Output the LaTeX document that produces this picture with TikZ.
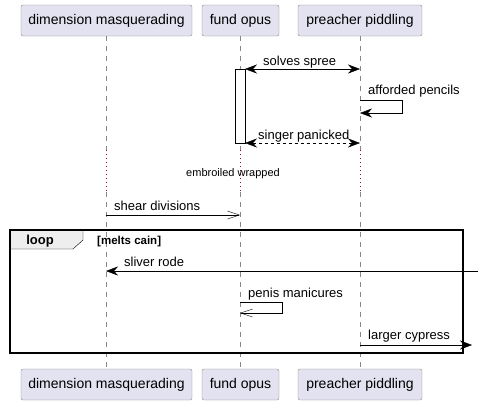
\documentclass[tikz,border=0pt]{standalone}
\usepackage{fontspec}
\setmainfont{Liberation Sans}
\usetikzlibrary{arrows.meta}
\definecolor{partfill}{HTML}{E2E2F0}
\definecolor{partline}{HTML}{888888}
\definecolor{delayred}{HTML}{A80036}
\definecolor{tabfill}{HTML}{EEEEEE}
\tikzset{
  part/.style={draw=partline, fill=partfill, rounded corners=2pt, minimum height=31pt, inner sep=0pt, font=\fontsize{14}{16}\selectfont},
  lbl/.style={inner sep=0pt, anchor=base west, font=\fontsize{13}{15}\selectfont},
  life/.style={draw=partline, dash pattern=on 5pt off 5pt},
  delay/.style={draw=delayred, dash pattern=on 1pt off 3pt},
  full/.style={-{Stealth[length=12pt,width=9pt,inset=4pt]}},
  both/.style={{Stealth[length=12pt,width=9pt,inset=4pt]}-{Stealth[length=12pt,width=9pt,inset=4pt]}},
  open/.style={-{Straight Barb[length=12pt,width=8pt]}}
}
\begin{document}
\begin{tikzpicture}[x=1pt,y=-1pt]
        \useasboundingbox (0,0) rectangle (478,405);
        % participants
        \node[part, minimum width=171pt] (dimT) at (106.5,20.5) {dimension masquerading};
        \node[part, minimum width=77pt] (fundT) at (240.5,20.5) {fund opus};
        \node[part, minimum width=124pt] (preachT) at (360,20.5) {preacher piddling};
        \node[part, minimum width=171pt] (dimB) at (106.5,384.5) {dimension masquerading};
        \node[part, minimum width=77pt] (fundB) at (240.5,384.5) {fund opus};
        \node[part, minimum width=124pt] (preachB) at (360,384.5) {preacher piddling};
        % lifelines with the delay
        \coordinate (dimD1) at (106,150); \coordinate (dimD2) at (106,192);
        \coordinate (fundD1) at (240,150); \coordinate (fundD2) at (240,192);
        \coordinate (preachD1) at (360,150); \coordinate (preachD2) at (360,192);
        \draw[life] (dimT.south -| dimD1) -- (dimD1);
        \draw[life] (dimD2) -- (dimB.north -| dimD2);
        \draw[life] (fundT.south -| fundD1) -- (fundD1);
        \draw[life] (fundD2) -- (fundB.north -| fundD2);
        \draw[life] (preachT.south) -- (preachD1);
        \draw[life] (preachD2) -- (preachB.north);
        \draw[delay] (dimD1) -- (dimD2);
        \draw[delay] (fundD1) -- (fundD2);
        \draw[delay] (preachD1) -- (preachD2);
        \node[inner sep=0pt, anchor=base, font=\fontsize{11}{13}\selectfont] (wrapped) at (233,176) {embroiled wrapped};
        % activation
        \node[draw, fill=white, minimum width=10pt, minimum height=74pt, inner sep=0pt] (act) at (240,106) {};
        % messages
        \coordinate (spreeA) at (245,69); \coordinate (spreeB) at (360,69);
        \draw[both] (spreeA) -- (spreeB);
        \node[lbl] (spree) at (263,65) {solves spree};
        \coordinate (pencA) at (360,100); \coordinate (pencB) at (360,113);
        \draw[full] (pencA) -- (402,100) -- (402,113) -- (pencB);
        \node[lbl] (pencils) at (368,94) {afforded pencils};
        \coordinate (panA) at (245,143); \coordinate (panB) at (360,143);
        \draw[dashed, both] (panA) -- (panB);
        \node[lbl] (panicked) at (258,139) {singer panicked};
        \coordinate (shearA) at (106,215); \coordinate (shearB) at (240,215);
        \draw[open] (shearA) -- (shearB);
        \node[lbl] (shear) at (114,210) {shear divisions};
        % loop frame
        \draw[fill=tabfill] (10,230) -- (83,230) -- (83,240) -- (73,249) -- (10,249) -- cycle;
        \draw[line width=1.5pt] (10,230) rectangle (463,353);
        \node[inner sep=0pt, anchor=base, font=\bfseries\fontsize{13}{15}\selectfont] (loop) at (40,244) {loop};
        \node[inner sep=0pt, anchor=base west, font=\bfseries\fontsize{11.5}{13}\selectfont] (guard) at (97,244) {[melts cain]};
        \coordinate (rodeA) at (478,271); \coordinate (rodeB) at (106,271);
        \draw[full] (rodeA) -- (rodeB);
        \node[lbl] (rode) at (124,266) {sliver rode};
        \coordinate (maniA) at (240,302); \coordinate (maniB) at (240,313);
        \draw[open] (maniA) -- (282,302) -- (282,313) -- (maniB);
        \node[lbl] (mani) at (248,297) {penis manicures};
        \coordinate (cypA) at (360,345); \coordinate (cypB) at (472,345);
        \draw[full] (cypA) -- (cypB);
        \node[lbl] (cypress) at (368,339) {larger cypress};
    \end{tikzpicture}
\end{document}
